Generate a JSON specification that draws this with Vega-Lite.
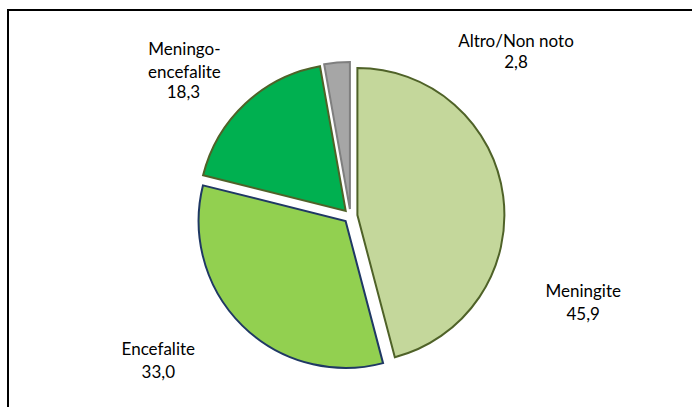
{
  "$schema": "https://vega.github.io/schema/vega-lite/v6.json",
  "width": 710,
  "height": 412,
  "autosize": {"type": "none"},
  "padding": {"left": 8, "top": 10, "right": -26, "bottom": -15},
  "background": "white",
  "view": {"stroke": "#000000", "strokeWidth": 2, "fill": "white"},
  "config": {
    "view": {"stroke": "#000000", "strokeWidth": 2},
    "locale": {"number": {"decimal": ",", "thousands": ".", "grouping": [3], "currency": ["", " €"]}}
  },
  "data": {
    "values": [
      {"name": "Meningite", "value": 45.9, "order": 1},
      {"name": "Encefalite", "value": 33.0, "order": 2},
      {"name": "Meningo-\nencefalite", "value": 18.3, "order": 3},
      {"name": "Altro/Non noto", "value": 2.8, "order": 4}
    ]
  },
  "encoding": {
    "theta": {"field": "value", "type": "quantitative", "stack": true},
    "order": {"field": "order", "type": "quantitative"}
  },
  "layer": [
    {
      "mark": {
        "type": "arc",
        "outerRadius": 147,
        "strokeWidth": 2,
        "strokeJoin": "miter",
        "xOffset": {"expr": "datum.order == 1 ? -5.6 : datum.order == 2 ? -17.4 : datum.order == 3 ? -17.3 : -13.1"},
        "yOffset": {"expr": "datum.order == 1 ? -0.9 : datum.order == 2 ? 5.0 : datum.order == 3 ? -5.1 : -7.0"}
      },
      "encoding": {
        "color": {
          "field": "name", "type": "nominal", "legend": null,
          "scale": {"domain": ["Meningite", "Encefalite", "Meningo-\nencefalite", "Altro/Non noto"], "range": ["#c4d79b", "#92d050", "#00b050", "#a6a6a6"]}
        },
        "stroke": {
          "field": "name", "type": "nominal", "legend": null,
          "scale": {"domain": ["Meningite", "Encefalite", "Meningo-\nencefalite", "Altro/Non noto"], "range": ["#4f6228", "#1f3864", "#4f6228", "#7f7f7f"]}
        }
      }
    },
    {
      "mark": {
        "type": "text",
        "radius": 154,
        "font": "Lato",
        "fontSize": 17,
        "lineBreak": "\n",
        "lineHeight": 23,
        "align": "center",
        "baseline": "middle",
        "color": "#000000",
        "dx": {"expr": "datum.order == 1 ? 67.5 : datum.order == 2 ? -96.5 : datum.order == 3 ? -73.5 : 166.5"},
        "dy": {"expr": "datum.order == 1 ? 96 : datum.order == 2 ? 24 : datum.order == 3 ? -53 : -21"}
      },
      "encoding": {"text": {"field": "name", "type": "nominal"}}
    },
    {
      "mark": {
        "type": "text",
        "radius": 154,
        "font": "Lato",
        "fontSize": 17,
        "align": "center",
        "baseline": "middle",
        "color": "#000000",
        "dx": {"expr": "datum.order == 1 ? 67.5 : datum.order == 2 ? -96.5 : datum.order == 3 ? -74.5 : 166.5"},
        "dy": {"expr": "datum.order == 1 ? 119 : datum.order == 2 ? 47 : datum.order == 3 ? -10 : 0"}
      },
      "encoding": {"text": {"field": "value", "type": "quantitative", "format": ".1f"}}
    }
  ]
}
